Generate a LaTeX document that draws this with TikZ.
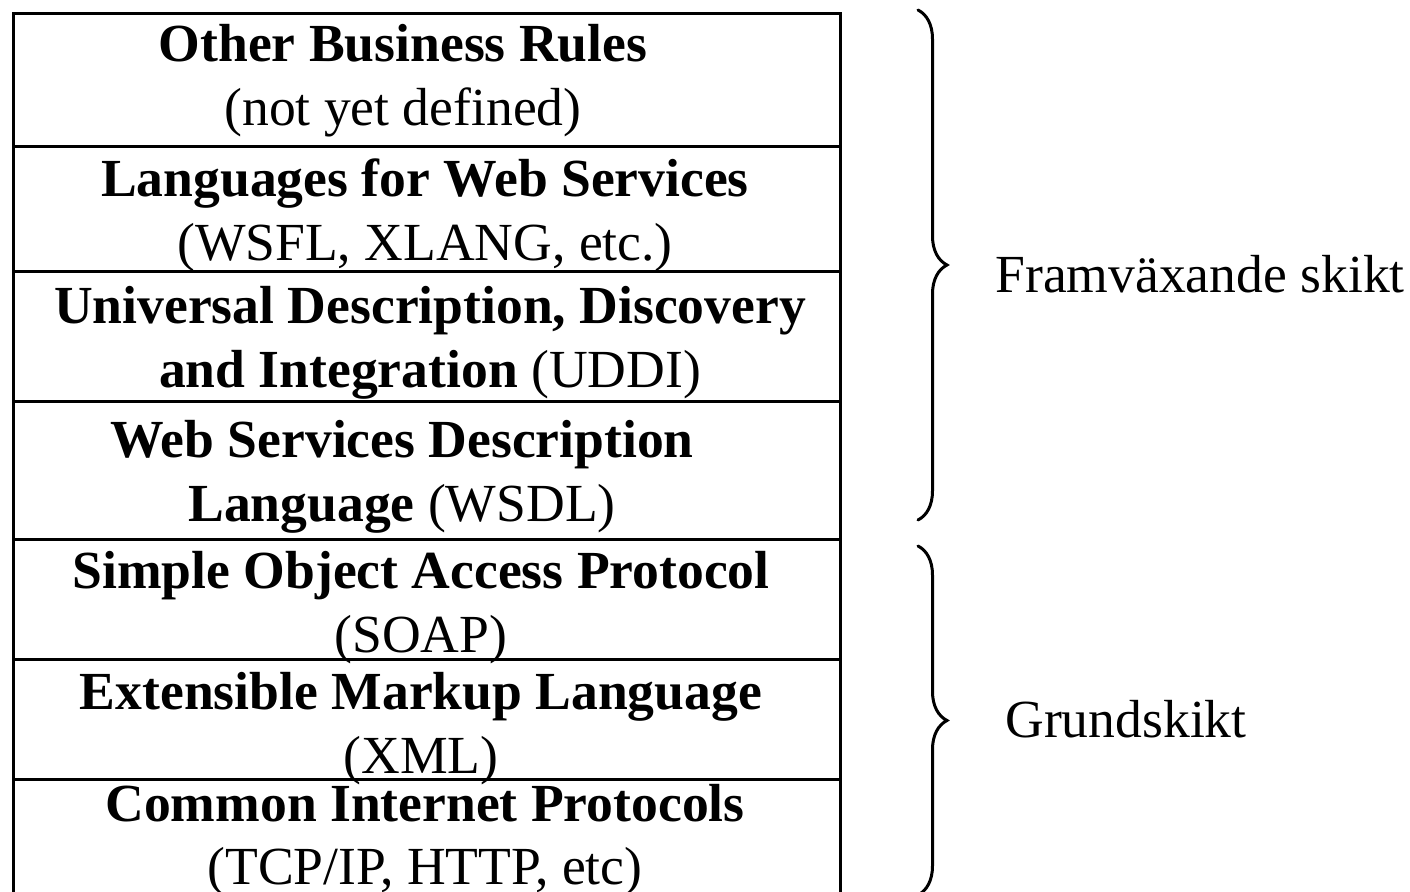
\documentclass[tikz,border=0pt]{standalone}
\usepackage{fontspec}
\setmainfont{Liberation Serif}
\usetikzlibrary{decorations.pathreplacing}
\newcommand{\widthstack}{413.5pt}
\tikzset{
    layer/.style={draw, line width=1.5pt, rectangle, anchor=north west, minimum width=\widthstack, inner sep=0pt},
    layertext/.style={anchor=base, align=center, inner sep=0pt, font=\fontsize{26.8}{32}\selectfont},
    group/.style={draw, line width=1.5pt, line cap=round, decorate, decoration={brace, amplitude=14.5pt}},
    grouptext/.style={anchor=base west, inner sep=0pt, font=\fontsize{26.8}{32}\selectfont}
}

\begin{document}
\begin{tikzpicture}[x=0.5pt, y=-0.5pt]
        \useasboundingbox (0,0) rectangle (1410,892);

        % the stack of layers
        \path
            (12,12) node[layer, minimum height=66.5pt] (rules-box) {}
            ++(0,133) node[layer, minimum height=62.5pt] (lang-box) {}
            ++(0,125) node[layer, minimum height=65pt] (uddi-box) {}
            ++(0,130) node[layer, minimum height=69pt] (wsdl-box) {}
            ++(0,138) node[layer, minimum height=60pt] (soap-box) {}
            ++(0,120) node[layer, minimum height=60pt] (xml-box) {}
            ++(0,120) node[layer, minimum height=64pt] (inet-box) {};

        % texts, placed at the baseline of their last line
        \node[layertext] (rules) at (403,126) {\textbf{Other Business Rules}\\(not yet defined)};
        \node[layertext] (lang) at (425,261) {\textbf{Languages for Web Services}\\(WSFL, XLANG, etc.)};
        \node[layertext] (uddi) at (430,388) {\textbf{Universal Description, Discovery}\\\textbf{and Integration} (UDDI)};
        \node[layertext] (wsdl) at (402,522) {\textbf{Web Services Description}\\\textbf{Language} (WSDL)};
        \node[layertext] (soap) at (421,653) {\textbf{Simple Object Access Protocol}\\(SOAP)};
        \node[layertext] (xml) at (421,774) {\textbf{Extensible Markup Language}\\(XML)};
        \node[layertext] (inet) at (425,885) {\textbf{Common Internet Protocols}\\(TCP/IP, HTTP, etc)};

        % braces
        \coordinate (emerging-top) at (918,10);
        \coordinate (emerging-bottom) at (918,520);
        \coordinate (base-top) at (918,546);
        \coordinate (base-bottom) at (918,895);

        \draw[group] (emerging-top) -- (emerging-bottom);
        \draw[group] (base-top) -- (base-bottom);

        \node[grouptext] (emerging) at (995,293) {Framväxande skikt};
        \node[grouptext] (base) at (1005,738) {Grundskikt};
    \end{tikzpicture}
\end{document}
